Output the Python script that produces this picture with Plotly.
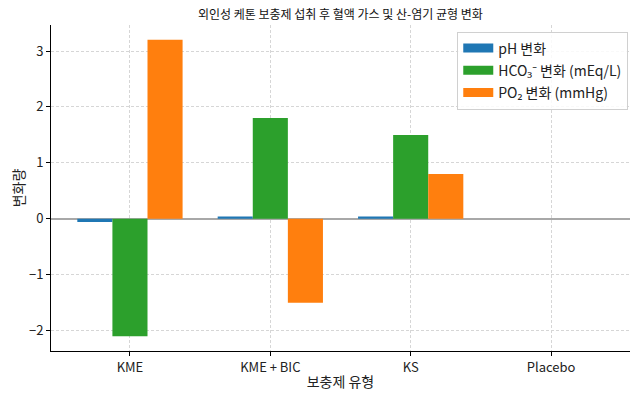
import plotly.graph_objects as go

categories = ["KME", "KME + BIC", "KS", "Placebo"]
ph_change = [-0.06, 0.04, 0.04, 0.0]
hco3_change = [-2.1, 1.8, 1.5, 0.0]
po2_change = [3.2, -1.5, 0.8, 0.0]

series_names = ["pH 변화", "HCO₃⁻ 변화 (mEq/L)", "PO₂ 변화 (mmHg)"]
colors = ["#1f77b4", "#2ca02c", "#ff7f0e"]

font_family = "Noto Sans CJK KR, Noto Sans, sans-serif"

fig = go.Figure()
for name, vals, c in zip(series_names, [ph_change, hco3_change, po2_change], colors):
    fig.add_trace(go.Bar(
        x=categories, y=vals, name=name, legendgroup=name, showlegend=False,
        marker=dict(color=c, line=dict(width=0)),
    ))
# legend entries drawn as wide colour patches (like the reference legend)
for name, c in zip(series_names, colors):
    fig.add_trace(go.Scatter(
        x=[None], y=[None], name=name, legendgroup=name, mode="lines",
        line=dict(color=c, width=9), hoverinfo="skip",
    ))

fig.update_layout(
    width=638, height=396,
    margin=dict(l=51, r=8, t=25, b=45, autoexpand=False),
    paper_bgcolor="white", plot_bgcolor="white",
    barmode="group", bargap=0.25, bargroupgap=0,
    font=dict(family=font_family, size=13, color="#222222"),
    title=dict(text="외인성 케톤 보충제 섭취 후 혈액 가스 및 산-염기 균형 변화",
               x=0.5335, xanchor="center", y=0.972, yanchor="top",
               font=dict(size=12, color="#111111")),
    legend=dict(x=0.997, y=0.98, xanchor="right", yanchor="top",
                bgcolor="rgba(255,255,255,0.85)", bordercolor="#d0d0d0", borderwidth=1,
                font=dict(size=14), tracegroupgap=1, itemwidth=30),
    showlegend=True,
)
fig.update_xaxes(
    type="category", range=[-0.5625, 3.5625], automargin=False,
    showline=True, linecolor="black", linewidth=1, mirror=False,
    ticks="outside", ticklen=4, tickcolor="black",
    showgrid=True, gridcolor="#d6d6d6", griddash="3px,2px", gridwidth=0.8,
    title=dict(text="보충제 유형", standoff=2, font=dict(size=14)),
    tickfont=dict(size=13),
)
fig.update_yaxes(
    range=[-2.365, 3.465], tickvals=[-2, -1, 0, 1, 2, 3], automargin=False,
    ticktext=["−2", "−1", "0", "1", "2", "3"],
    showline=True, linecolor="black", linewidth=1,
    ticks="outside", ticklen=4, tickcolor="black",
    showgrid=True, gridcolor="#d6d6d6", griddash="3px,2px", gridwidth=0.8,
    zeroline=True, zerolinecolor="#a8a8a8", zerolinewidth=1.5,
    title=dict(text="변화량", standoff=1, font=dict(size=14)),
    tickfont=dict(size=13),
)

fig.write_html("out.html", config={"displayModeBar": False},
               post_script="document.body.style.margin='0';document.body.style.padding='0';")
